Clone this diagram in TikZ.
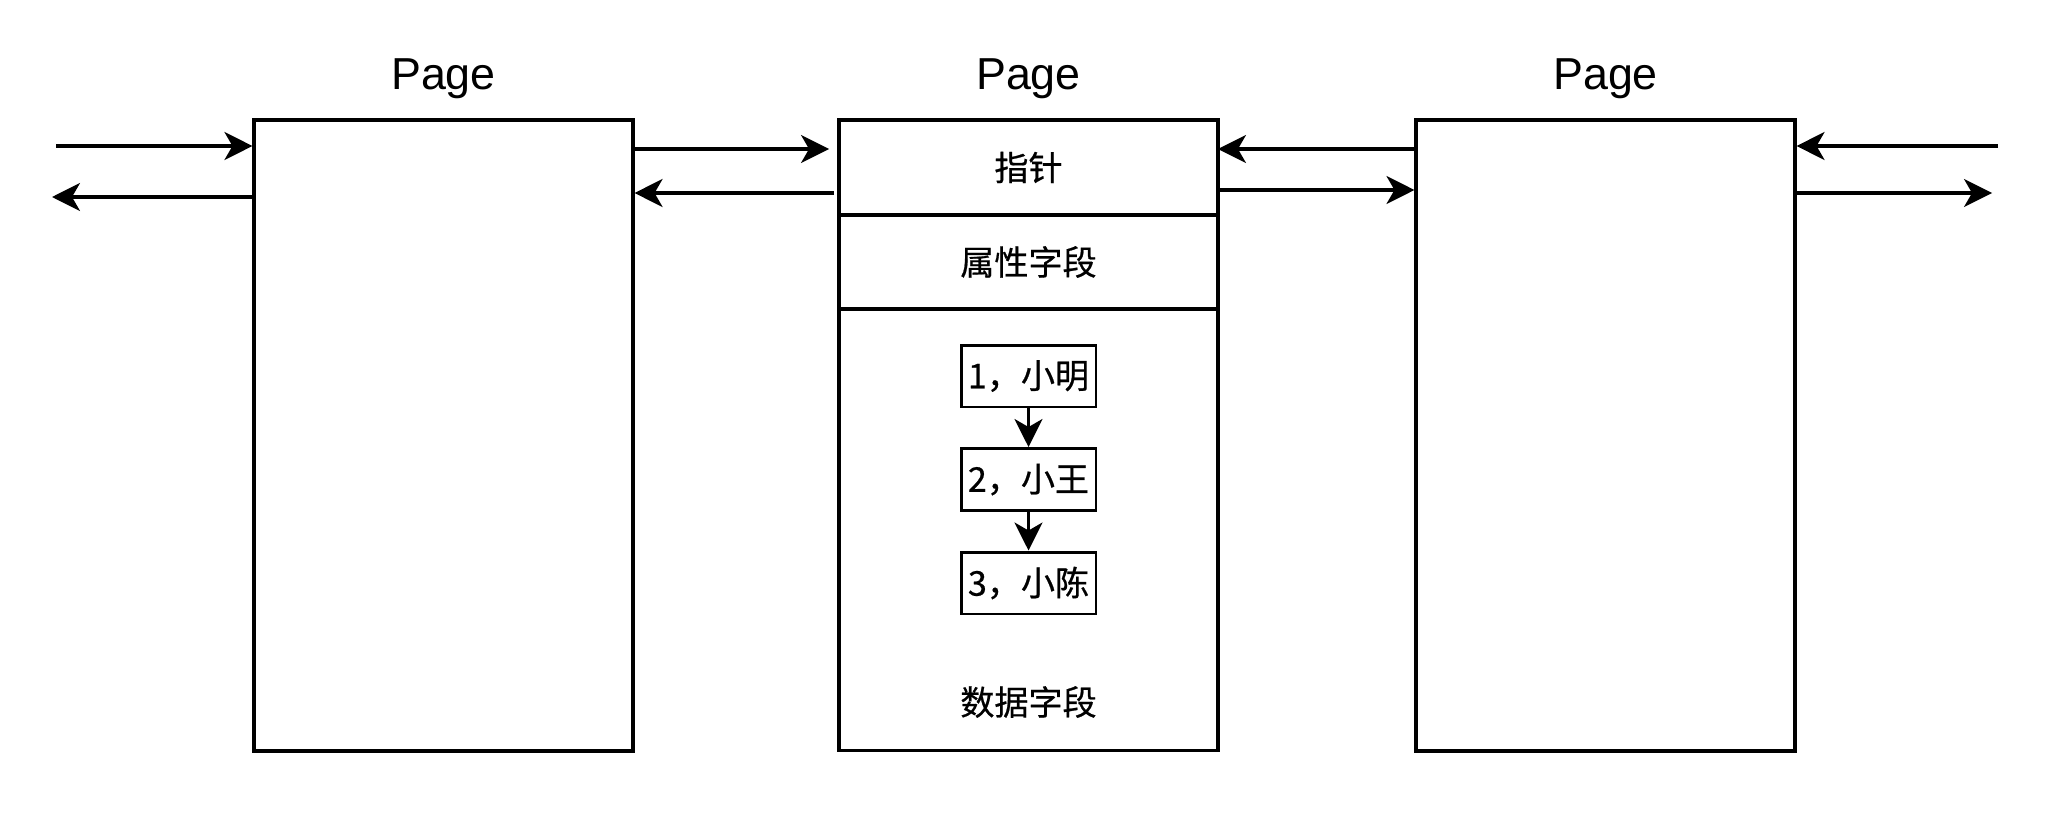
\documentclass[tikz,border=0pt]{standalone}
\usepackage{fontspec}
\setmainfont{Liberation Sans}
\newfontfamily\cjk{Noto Sans CJK SC}[FakeBold=0.6]
\usetikzlibrary{arrows.meta,positioning}

\begin{document}
\begin{tikzpicture}[x=0.02cm, y=-0.02cm,
    page/.style={draw, line width=1.8pt, minimum width=7.58cm, minimum height=12.62cm, inner sep=0pt},
    cell/.style={draw, line width=1.8pt, outer sep=0pt, minimum width=7.58cm, inner sep=0pt, font=\cjk\fontsize{19.4}{23}\selectfont},
    rec/.style={draw, line width=1.7pt, minimum width=2.7cm, minimum height=1.24cm, inner sep=0pt, font=\cjk\fontsize{19.4}{23}\selectfont},
    txt/.style={font=\cjk\fontsize{19.4}{23}\selectfont},
    pagelbl/.style={anchor=base, font=\fontsize{25.5}{30}\selectfont},
    link/.style={line width=1.8pt, -{Stealth[length=0.56cm, width=0.56cm, inset=0.16cm]}}]

   \useasboundingbox (0,0) rectangle (2054,838);

   % left and right pages
   \node[page] (pageL) at (443.5,435.5) {};
   \node[page] (pageR) at (1605.5,435.5) {};

   % middle page, split into fields
   \node[cell, minimum height=1.9cm] (ptr) at (1028.5,167.5) {指针};
   \node[cell, minimum height=1.88cm, below=0pt of ptr] (attr) {属性字段};
   \node[cell, minimum height=8.84cm, below=0pt of attr] (data) {};
   \node[txt] (datalbl) at (1028.5,702) {数据字段};

   \node[pagelbl] (tL) at ([yshift=0.58cm]pageL.north) {Page};
   \node[pagelbl] (tM) at ([yshift=0.62cm]ptr.north) {Page};
   \node[pagelbl] (tR) at ([yshift=0.58cm]pageR.north) {Page};

   % records
   \node[rec] (rec1) at (1028.5,376) {1，小明};
   \node[rec] (rec2) at (1028.5,479.5) {2，小王};
   \node[rec] (rec3) at (1028.5,583) {3，小陈};
   \draw[link] (rec1) -- (rec2);
   \draw[link] (rec2) -- (rec3);

   % links between pages
   \coordinate (inL) at (56,146);
   \coordinate (outL) at (52,197);
   \coordinate (inR) at (1998,146);
   \coordinate (outR) at (1992,193);

   \draw[link] (inL) -- (inL -| pageL.west);
   \draw[link] (outL -| pageL.west) -- (outL);

   \draw[link, shorten >=0.2cm] (pageL.east |- 0,149) -- (ptr.west |- 0,149);
   \draw[link, shorten <=0.1cm] (ptr.west |- 0,193) -- (pageL.east |- 0,193);

   \draw[link] (pageR.west |- 0,149) -- (ptr.east |- 0,149);
   \draw[link] (ptr.east |- 0,190) -- (pageR.west |- 0,190);

   \draw[link] (inR) -- (inR -| pageR.east);
   \draw[link] (outR -| pageR.east) -- (outR);

 \end{tikzpicture}
\end{document}
